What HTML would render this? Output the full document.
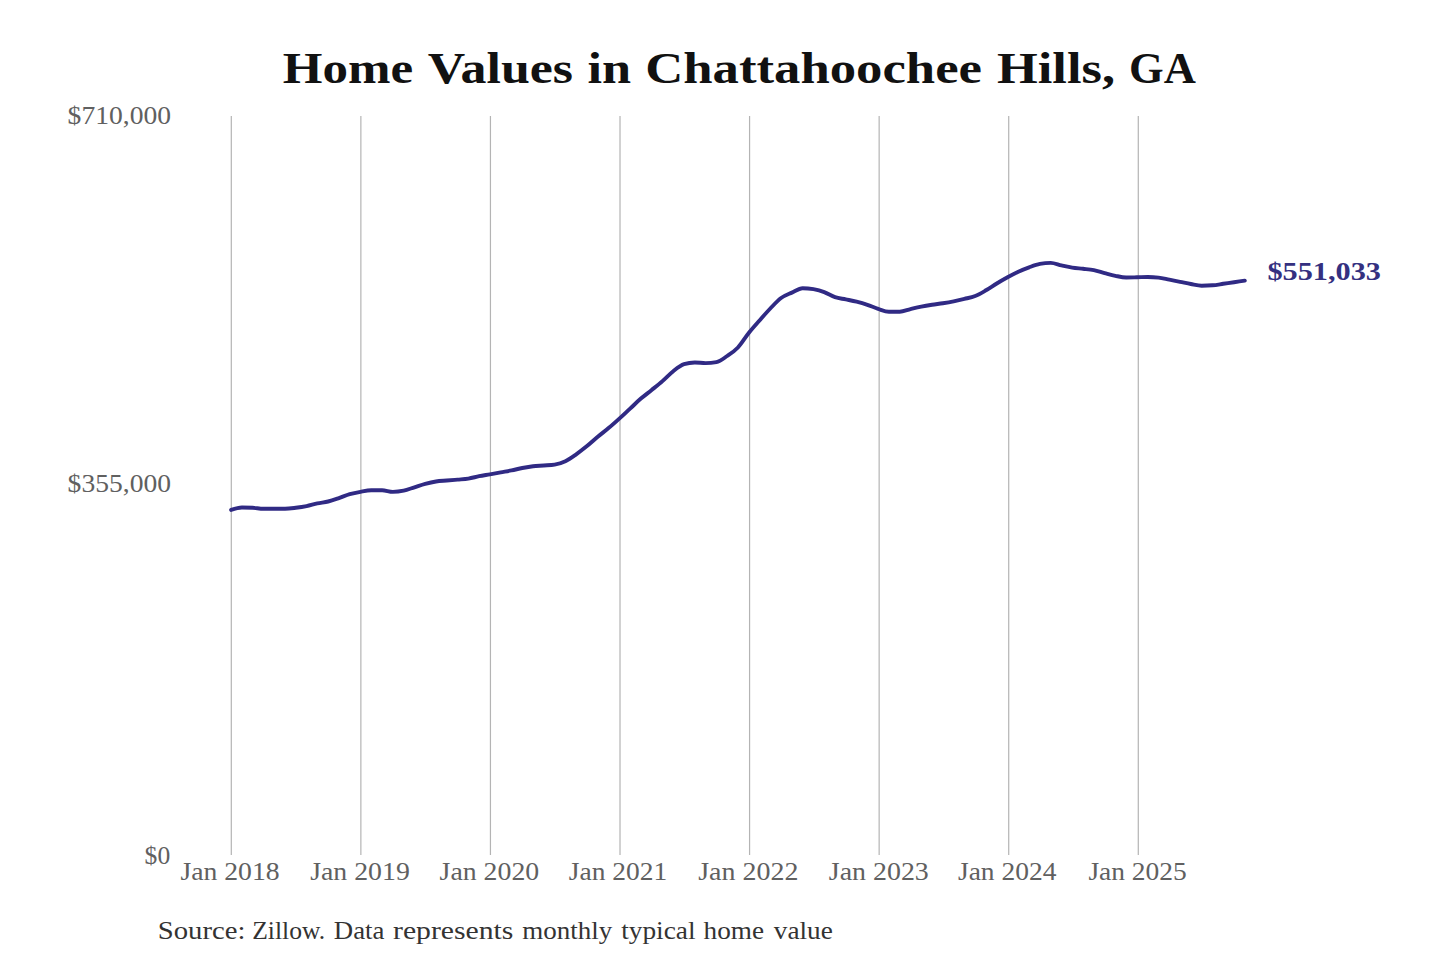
<!DOCTYPE html>
<html><head><meta charset="utf-8"><style>
html,body{margin:0;padding:0;background:#fff;width:1440px;height:960px;overflow:hidden}
svg{display:block}
text{font-family:"Liberation Serif",serif}
</style></head><body>
<svg width="1440" height="960" viewBox="0 0 1440 960">
<rect width="1440" height="960" fill="#fff"/>
<g font-weight="bold" font-size="43.4" fill="#111">
<text x="282.80" y="82.80" textLength="130.40" lengthAdjust="spacingAndGlyphs">Home</text>
<text x="427.80" y="82.80" textLength="145.20" lengthAdjust="spacingAndGlyphs">Values</text>
<text x="587.40" y="82.80" textLength="43.60" lengthAdjust="spacingAndGlyphs">in</text>
<text x="645.20" y="82.80" textLength="336.80" lengthAdjust="spacingAndGlyphs">Chattahoochee</text>
<text x="997.00" y="82.80" textLength="118.00" lengthAdjust="spacingAndGlyphs">Hills,</text>
<text x="1129.00" y="82.80" textLength="66.80" lengthAdjust="spacingAndGlyphs">GA</text>
</g>
<g stroke="#b4b4b4" stroke-width="1.2">
<line x1="231.30" y1="116" x2="231.30" y2="855"/>
<line x1="360.87" y1="116" x2="360.87" y2="855"/>
<line x1="490.44" y1="116" x2="490.44" y2="855"/>
<line x1="620.01" y1="116" x2="620.01" y2="855"/>
<line x1="749.58" y1="116" x2="749.58" y2="855"/>
<line x1="879.15" y1="116" x2="879.15" y2="855"/>
<line x1="1008.72" y1="116" x2="1008.72" y2="855"/>
<line x1="1138.29" y1="116" x2="1138.29" y2="855"/>
</g>
<g font-size="25.5" fill="#606060">
<text x="67.60" y="124.20" textLength="103.40" lengthAdjust="spacingAndGlyphs">$710,000</text>
<text x="67.60" y="492.10" textLength="103.40" lengthAdjust="spacingAndGlyphs">$355,000</text>
<text x="144.60" y="863.50" textLength="25.60" lengthAdjust="spacingAndGlyphs">$0</text>
<text x="180.40" y="879.50" textLength="99.20" lengthAdjust="spacingAndGlyphs">Jan 2018</text>
<text x="310.20" y="879.50" textLength="99.60" lengthAdjust="spacingAndGlyphs">Jan 2019</text>
<text x="439.60" y="879.50" textLength="99.60" lengthAdjust="spacingAndGlyphs">Jan 2020</text>
<text x="568.80" y="879.50" textLength="98.40" lengthAdjust="spacingAndGlyphs">Jan 2021</text>
<text x="698.20" y="879.50" textLength="100.20" lengthAdjust="spacingAndGlyphs">Jan 2022</text>
<text x="828.80" y="879.50" textLength="100.00" lengthAdjust="spacingAndGlyphs">Jan 2023</text>
<text x="958.00" y="879.50" textLength="98.40" lengthAdjust="spacingAndGlyphs">Jan 2024</text>
<text x="1088.40" y="879.50" textLength="98.40" lengthAdjust="spacingAndGlyphs">Jan 2025</text>
</g>
<path d="M231.10,509.90 C234.69,508.70 238.29,507.50 241.88,507.50 C245.48,507.50 249.07,507.60 252.67,507.80 C256.26,508.00 259.86,508.80 263.45,508.80 C267.05,508.80 270.64,508.80 274.24,508.80 C277.83,508.80 281.43,508.80 285.02,508.80 C288.61,508.80 292.21,508.25 295.80,507.80 C299.40,507.35 302.99,506.83 306.59,506.10 C310.18,505.37 313.78,504.17 317.37,503.40 C320.97,502.63 324.56,502.38 328.16,501.50 C331.75,500.62 335.35,499.32 338.94,498.10 C342.54,496.88 346.13,495.25 349.72,494.20 C353.32,493.15 356.91,492.45 360.51,491.80 C364.10,491.15 367.70,490.30 371.29,490.30 C374.89,490.30 378.48,490.30 382.08,490.30 C385.67,490.30 389.27,491.90 392.86,491.90 C396.46,491.90 400.05,491.47 403.64,490.70 C407.24,489.93 410.83,488.43 414.43,487.30 C418.02,486.17 421.62,484.87 425.21,483.90 C428.81,482.93 432.40,482.07 436.00,481.50 C439.59,480.93 443.19,480.82 446.78,480.50 C450.38,480.18 453.97,479.92 457.56,479.60 C461.16,479.28 464.75,479.17 468.35,478.60 C471.94,478.03 475.54,476.92 479.13,476.20 C482.73,475.48 486.32,474.95 489.92,474.30 C493.51,473.65 497.11,472.95 500.70,472.30 C504.30,471.65 507.89,471.12 511.49,470.40 C515.08,469.68 518.67,468.70 522.27,468.00 C525.86,467.30 529.46,466.62 533.05,466.20 C536.65,465.78 540.24,465.77 543.84,465.50 C547.43,465.23 551.03,465.20 554.62,464.60 C558.22,464.00 561.81,462.92 565.41,461.20 C569.00,459.48 572.59,456.82 576.19,454.30 C579.78,451.78 583.38,449.02 586.97,446.10 C590.57,443.18 594.16,439.80 597.76,436.80 C601.35,433.80 604.95,431.13 608.54,428.10 C612.14,425.07 615.73,421.85 619.33,418.60 C622.92,415.35 626.51,411.93 630.11,408.60 C633.70,405.27 637.30,401.70 640.89,398.60 C644.49,395.50 648.08,392.92 651.68,390.00 C655.27,387.08 658.87,384.23 662.46,381.10 C666.06,377.97 669.65,374.02 673.25,371.20 C676.84,368.38 680.44,365.33 684.03,364.20 C687.62,363.07 691.22,362.50 694.81,362.50 C698.41,362.50 702.00,363.10 705.60,363.10 C709.19,363.10 712.79,362.77 716.38,362.10 C719.98,361.43 723.57,358.43 727.17,356.00 C730.76,353.57 734.36,351.33 737.95,347.50 C741.54,343.67 745.14,337.50 748.73,333.00 C752.33,328.50 755.92,324.58 759.52,320.50 C763.11,316.42 766.71,312.25 770.30,308.50 C773.90,304.75 777.49,300.65 781.09,298.00 C784.68,295.35 788.28,294.23 791.87,292.60 C795.46,290.97 799.06,288.20 802.65,288.20 C806.25,288.20 809.84,288.55 813.44,289.20 C817.03,289.85 820.63,290.77 824.22,292.10 C827.82,293.43 831.41,295.98 835.01,297.20 C838.60,298.42 842.20,298.65 845.79,299.40 C849.39,300.15 852.98,300.80 856.57,301.70 C860.17,302.60 863.76,303.60 867.36,304.80 C870.95,306.00 874.55,307.73 878.14,308.90 C881.74,310.07 885.33,311.80 888.93,311.80 C892.52,311.80 896.12,311.80 899.71,311.80 C903.31,311.80 906.90,309.97 910.49,309.10 C914.09,308.23 917.68,307.33 921.28,306.60 C924.87,305.87 928.47,305.27 932.06,304.70 C935.66,304.13 939.25,303.77 942.85,303.20 C946.44,302.63 950.04,302.02 953.63,301.30 C957.23,300.58 960.82,299.78 964.41,298.90 C968.01,298.02 971.60,297.43 975.20,296.00 C978.79,294.57 982.39,292.38 985.98,290.30 C989.58,288.22 993.17,285.67 996.77,283.50 C1000.36,281.33 1003.96,279.27 1007.55,277.30 C1011.15,275.33 1014.74,273.37 1018.34,271.70 C1021.93,270.03 1025.52,268.60 1029.12,267.30 C1032.71,266.00 1036.31,264.57 1039.90,263.90 C1043.50,263.23 1047.09,262.90 1050.69,262.90 C1054.28,262.90 1057.88,264.62 1061.47,265.40 C1065.07,266.18 1068.66,267.03 1072.26,267.60 C1075.85,268.17 1079.44,268.37 1083.04,268.80 C1086.63,269.23 1090.23,269.48 1093.82,270.20 C1097.42,270.92 1101.01,272.17 1104.61,273.10 C1108.20,274.03 1111.80,275.07 1115.39,275.80 C1118.99,276.53 1122.58,277.50 1126.18,277.50 C1129.77,277.50 1133.36,277.38 1136.96,277.30 C1140.55,277.22 1144.15,277.00 1147.74,277.00 C1151.34,277.00 1154.93,277.20 1158.53,277.60 C1162.12,278.00 1165.72,279.00 1169.31,279.70 C1172.91,280.40 1176.50,281.08 1180.10,281.80 C1183.69,282.52 1187.29,283.35 1190.88,284.00 C1194.47,284.65 1198.07,285.70 1201.66,285.70 C1205.26,285.70 1208.85,285.57 1212.45,285.30 C1216.04,285.03 1219.64,284.32 1223.23,283.80 C1226.83,283.28 1230.42,282.73 1234.02,282.20 C1237.61,281.67 1241.21,281.13 1244.80,280.60" fill="none" stroke="#302a84" stroke-width="3.9" stroke-linecap="round" stroke-linejoin="round"/>
<g font-weight="bold" font-size="25.5" fill="#343080">
<text x="1267.40" y="279.80" textLength="113.60" lengthAdjust="spacingAndGlyphs">$551,033</text>
</g>
<g font-size="26" fill="#333">
<text x="157.80" y="938.70" textLength="87.60" lengthAdjust="spacingAndGlyphs">Source:</text>
<text x="252.20" y="938.70" textLength="73.00" lengthAdjust="spacingAndGlyphs">Zillow.</text>
<text x="333.80" y="938.70" textLength="50.60" lengthAdjust="spacingAndGlyphs">Data</text>
<text x="393.00" y="938.70" textLength="120.40" lengthAdjust="spacingAndGlyphs">represents</text>
<text x="522.20" y="938.70" textLength="90.00" lengthAdjust="spacingAndGlyphs">monthly</text>
<text x="621.20" y="938.70" textLength="74.40" lengthAdjust="spacingAndGlyphs">typical</text>
<text x="703.60" y="938.70" textLength="60.40" lengthAdjust="spacingAndGlyphs">home</text>
<text x="773.80" y="938.70" textLength="59.00" lengthAdjust="spacingAndGlyphs">value</text>
</g>
</svg>
</body></html>
